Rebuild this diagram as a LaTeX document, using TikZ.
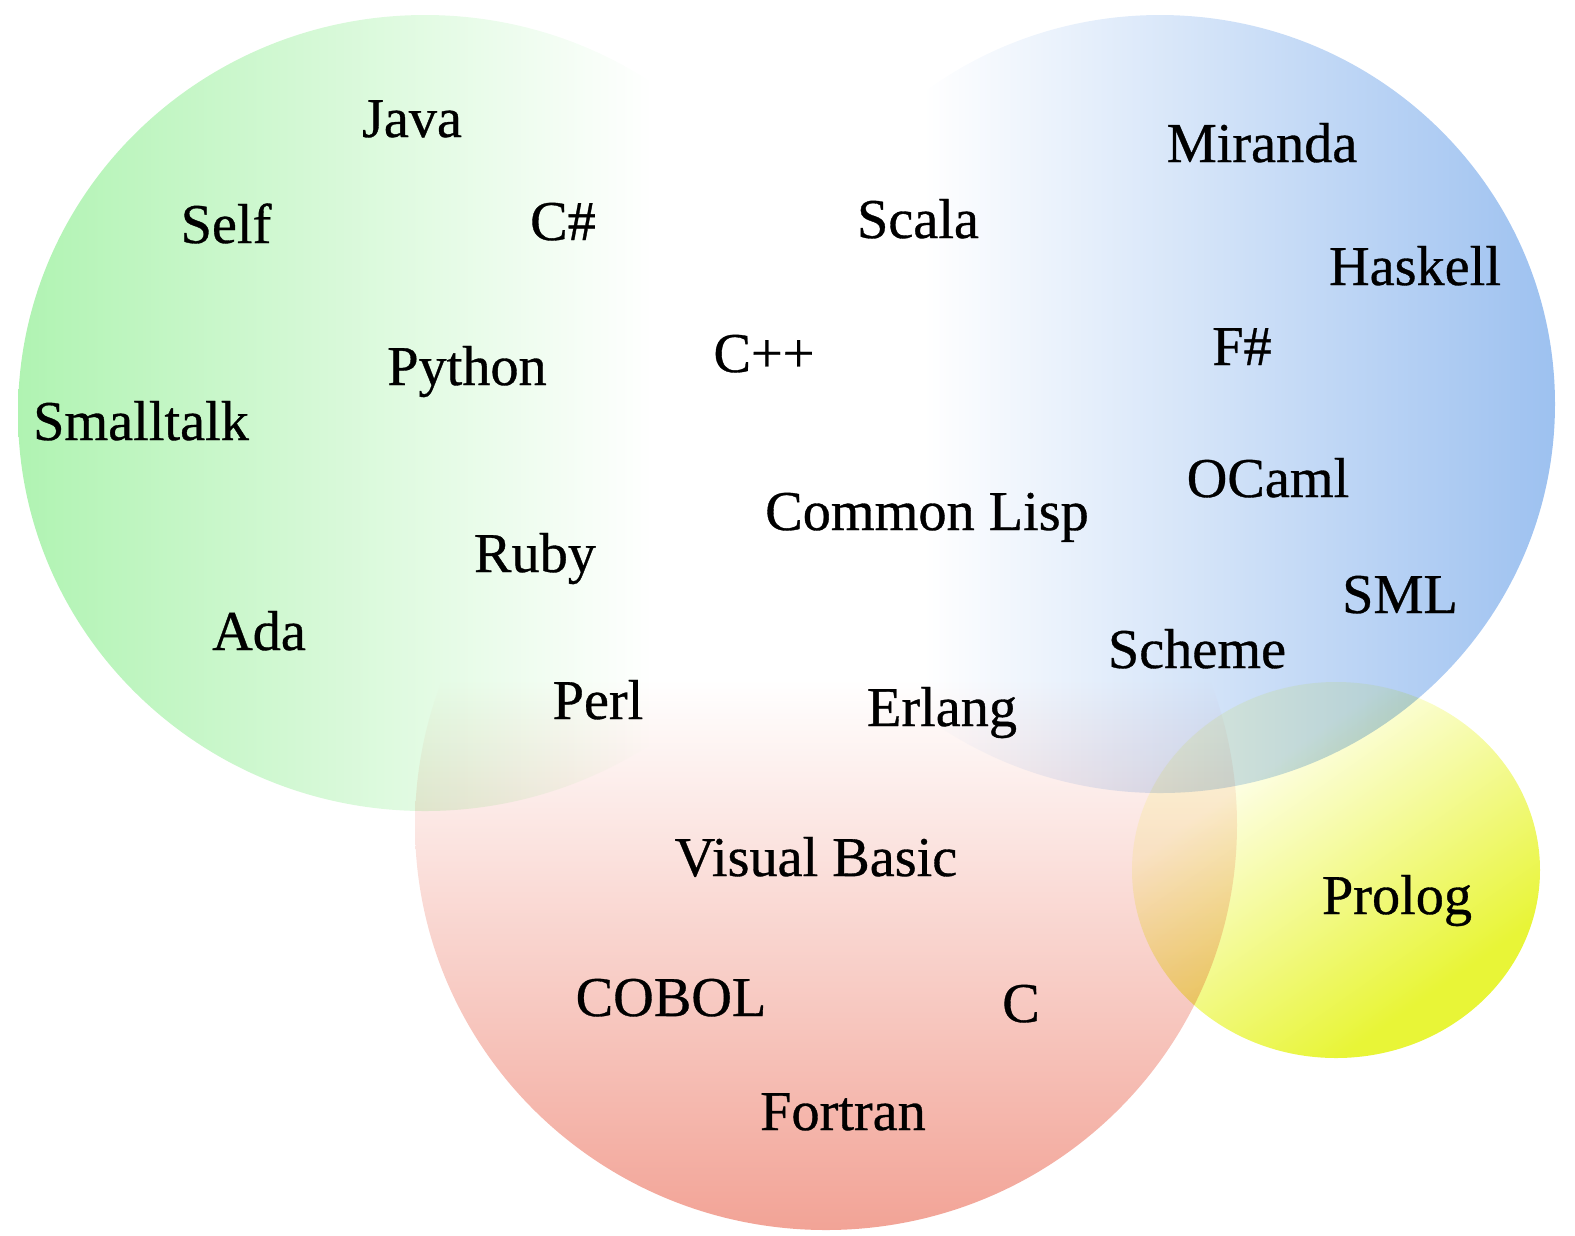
\documentclass[tikz,border=0pt]{standalone}
\usepackage{fontspec}
\setmainfont{Liberation Serif}
\newfontfamily\langfont[RawFeature={embolden=0.6}]{Liberation Serif}

\definecolor{lgreen}{RGB}{176,243,178}
\definecolor{lblue}{RGB}{157,193,240}
\definecolor{lred}{RGB}{242,163,150}
\definecolor{ylight}{RGB}{253,254,225}
\definecolor{ydark}{RGB}{232,245,55}

\pgfdeclarehorizontalshading{greenfade}{100bp}{color(0bp)=(lgreen); color(25bp)=(lgreen); color(64bp)=(white); color(100bp)=(white)}
\pgfdeclarehorizontalshading{bluefade}{100bp}{color(0bp)=(white); color(35bp)=(white); color(75bp)=(lblue); color(100bp)=(lblue)}
\pgfdeclareverticalshading{redfade}{100bp}{color(0bp)=(lred); color(25bp)=(lred); color(59bp)=(white); color(100bp)=(white)}
\pgfdeclareverticalshading{yellowfade}{100bp}{color(0bp)=(ydark); color(30bp)=(ydark); color(66bp)=(ylight); color(100bp)=(ylight)}

\tikzset{
  lang/.style={font=\langfont\fontsize{16}{19}\selectfont, inner sep=0pt, anchor=base},
}

\begin{document}
\begin{tikzpicture}[x=0.01cm, y=-0.01cm]
    \useasboundingbox (0,0) rectangle (1575,1235);

    % Области
    \begin{scope}[blend mode=multiply]
        \shade[shading=greenfade] (425,413) ellipse [x radius=407, y radius=398];
        \shade[shading=bluefade] (1160,404) ellipse [x radius=395, y radius=389];
        \shade[shading=yellowfade, shading angle=35] (1336,870) ellipse [x radius=204, y radius=188];
        \shade[shading=redfade] (826,825) ellipse [x radius=411, y radius=405];
    \end{scope}

    % Объектные
    \node[lang] (java) at (412,137) {Java};
    \node[lang] (self) at (226,243) {Self};
    \node[lang] (csharp) at (563,240) {C\#};
    \node[lang] (python) at (467,385) {Python};
    \node[lang] (smalltalk) at (141,440) {Smalltalk};
    \node[lang] (ruby) at (535,572) {Ruby};
    \node[lang] (ada) at (259,650) {Ada};
    \node[lang] (perl) at (598,719) {Perl};

    % Смешанные
    \node[lang] (scala) at (918,238) {Scala};
    \node[lang] (cpp) at (764,372) {C++};
    \node[lang] (lisp) at (927,530) {Common Lisp};
    \node[lang] (erlang) at (942,726) {Erlang};

    % Функциональные
    \node[lang] (miranda) at (1262,162) {Miranda};
    \node[lang] (haskell) at (1415,285) {Haskell};
    \node[lang] (fsharp) at (1242,365) {F\#};
    \node[lang] (ocaml) at (1268,497) {OCaml};
    \node[lang] (sml) at (1400,613) {SML};
    \node[lang] (scheme) at (1197,668) {Scheme};

    % Логические
    \node[lang] (prolog) at (1397,914) {Prolog};

    % Императивные
    \node[lang] (vb) at (816,876) {Visual Basic};
    \node[lang] (cobol) at (671,1016) {COBOL};
    \node[lang] (c) at (1021,1022) {C};
    \node[lang] (fortran) at (843,1130) {Fortran};
\end{tikzpicture}
\end{document}
